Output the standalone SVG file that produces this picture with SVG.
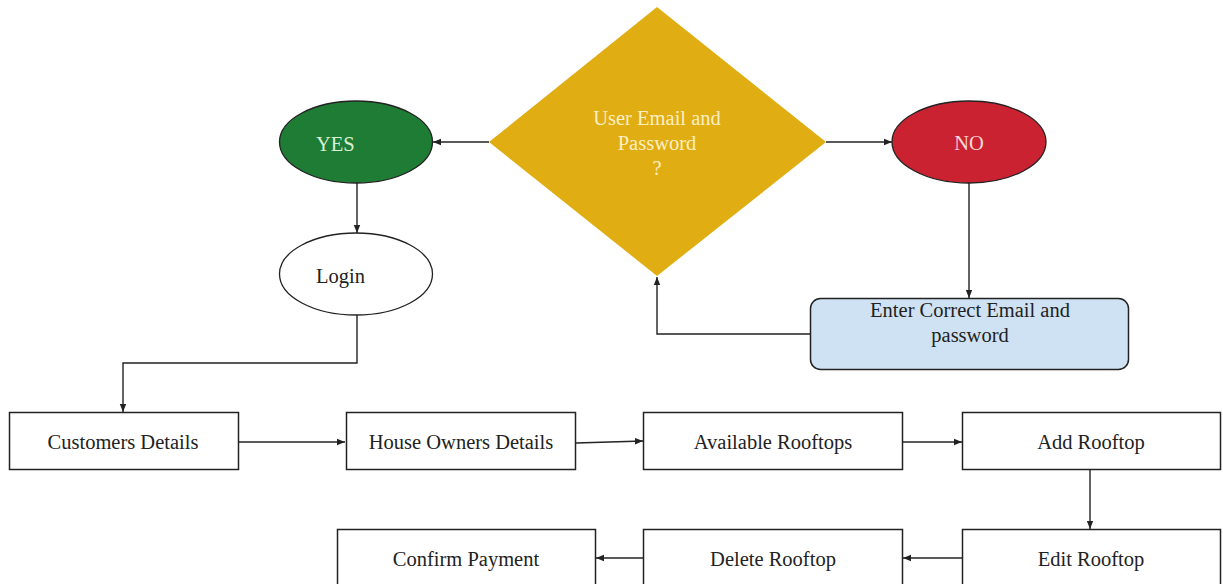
<svg xmlns="http://www.w3.org/2000/svg" width="1223" height="584" viewBox="0 0 1223 584">
  <style>
    .lbl { font-family: "Liberation Serif", "Times New Roman", serif; font-size: 20.5px; fill: #222; }
    .mid { text-anchor: middle; }
    .box { fill: #ffffff; stroke: #222; stroke-width: 1.5; }
    .edge { fill: none; stroke: #222; stroke-width: 1.4; marker-end: url(#arrow); }
  </style>
  <defs>
    <marker id="arrow" viewBox="0 0 10 10" refX="10" refY="5" markerWidth="8" markerHeight="8" markerUnits="userSpaceOnUse" orient="auto">
      <path d="M0,1 L10,5 L0,9 z" fill="#222"/>
    </marker>
  </defs>
  <rect width="1223" height="584" fill="#ffffff"/>

  <!-- decision -->
  <g id="decision">
    <polygon points="657,7 826,142 657,276 489,142" fill="#e0ad13"/>
    <text class="lbl mid" x="657" y="125" style="fill:#fdefc4">User Email and</text>
    <text class="lbl mid" x="657" y="150" style="fill:#fdefc4">Password</text>
    <text class="lbl mid" x="657" y="175" style="fill:#fdefc4">?</text>
  </g>

  <g id="yes">
    <ellipse cx="356" cy="142" rx="76.5" ry="41" fill="#1f7c35" stroke="#222" stroke-width="1.3"/>
    <text class="lbl" x="316" y="151" style="fill:#d9f0d3">YES</text>
  </g>

  <g id="no">
    <ellipse cx="969" cy="142" rx="77" ry="41" fill="#cb2231" stroke="#222" stroke-width="1.3"/>
    <text class="lbl mid" x="969" y="150" style="fill:#f8d6d6">NO</text>
  </g>

  <g id="login">
    <ellipse cx="356" cy="274" rx="76.5" ry="41" fill="#ffffff" stroke="#222" stroke-width="1.3"/>
    <text class="lbl" x="316" y="283">Login</text>
  </g>

  <g id="retry">
    <rect x="810.5" y="298.5" width="318" height="71" rx="10" ry="10" fill="#cfe2f3" stroke="#222" stroke-width="1.5"/>
    <text class="lbl mid" x="970" y="317">Enter Correct Email and</text>
    <text class="lbl mid" x="970" y="342">password</text>
  </g>

  <g id="customers">
    <rect class="box" x="9.5" y="412.5" width="229" height="57"/>
    <text class="lbl mid" x="123" y="449">Customers Details</text>
  </g>
  <g id="owners">
    <rect class="box" x="346.5" y="412.5" width="229" height="57"/>
    <text class="lbl mid" x="461" y="449">House Owners Details</text>
  </g>
  <g id="available">
    <rect class="box" x="643.5" y="412.5" width="259" height="57"/>
    <text class="lbl mid" x="773" y="449">Available Rooftops</text>
  </g>
  <g id="add">
    <rect class="box" x="962.5" y="412.5" width="258" height="57"/>
    <text class="lbl mid" x="1091" y="449">Add Rooftop</text>
  </g>
  <g id="edit">
    <rect class="box" x="962.5" y="529.5" width="258" height="60"/>
    <text class="lbl mid" x="1091" y="566">Edit Rooftop</text>
  </g>
  <g id="delete">
    <rect class="box" x="643.5" y="529.5" width="259" height="60"/>
    <text class="lbl mid" x="773" y="566">Delete Rooftop</text>
  </g>
  <g id="confirm">
    <rect class="box" x="337.5" y="529.5" width="258" height="60"/>
    <text class="lbl mid" x="466" y="566">Confirm Payment</text>
  </g>

  <!-- connectors -->
  <g id="connectors">
    <path class="edge" d="M489,142 H433"/>
    <path class="edge" d="M826,142 H892"/>
    <path class="edge" d="M357,183 V233"/>
    <path class="edge" d="M969,183 V298"/>
    <path class="edge" d="M810,334 H657 V277"/>
    <path class="edge" d="M357,315 V363 H123 V412"/>
    <path class="edge" d="M238,442 H345"/>
    <path class="edge" d="M576,443 L643,441"/>
    <path class="edge" d="M902,442 H962"/>
    <path class="edge" d="M1090,469 V529"/>
    <path class="edge" d="M962,558 H903"/>
    <path class="edge" d="M643,558 H596"/>
  </g>
</svg>
